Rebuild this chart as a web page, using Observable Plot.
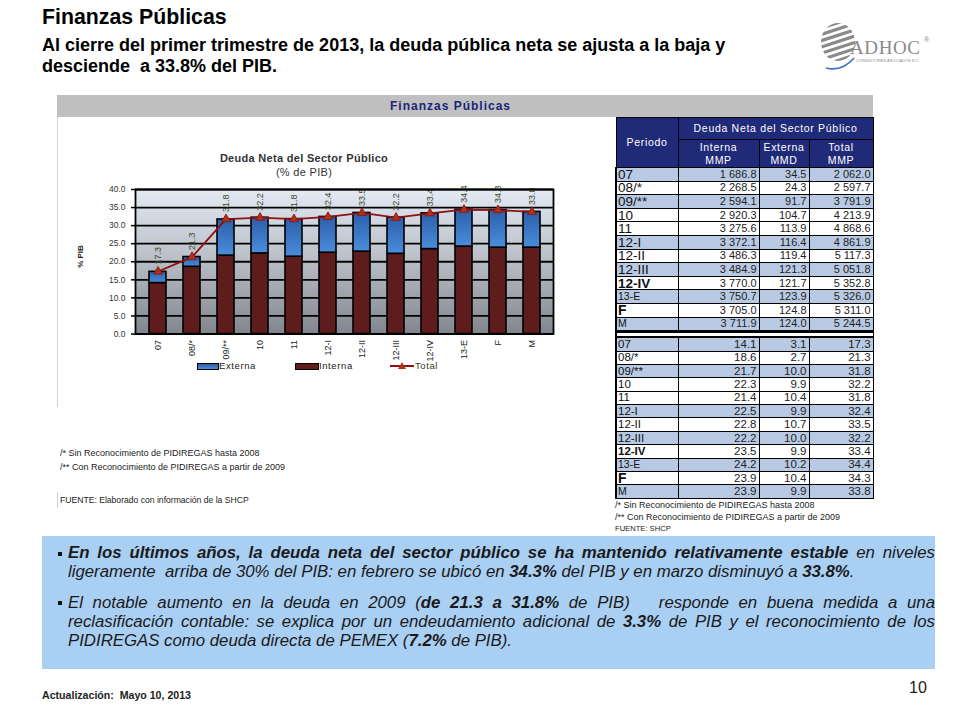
<!DOCTYPE html>
<html><head><meta charset="utf-8">
<script src="https://cdn.jsdelivr.net/npm/d3@7"></script>
<script src="https://cdn.jsdelivr.net/npm/@observablehq/plot@0.6"></script>
<style>
body{margin:0;background:#fff;font-family:"Liberation Sans",Arial,sans-serif;}
#page{position:relative;width:960px;height:720px;overflow:hidden;background:#fff;}
.abs{position:absolute;white-space:nowrap;}
#tbl{position:absolute;left:615px;top:117px;width:257px;border-collapse:collapse;table-layout:fixed;}
#tbl th{background:#1f2a78;color:#fff;font-weight:normal;font-size:10.5px;letter-spacing:.7px;border:1px solid #000;padding:0;line-height:13px;}
#tbl tr.h1 th{height:21px;}
#tbl tr.h2 th{height:27px;}
#tbl td{border:1px solid #000;padding:0 2px;font-size:11px;line-height:11px;text-align:right;color:#222;white-space:nowrap;}
#tbl tr.r1 td{height:12.6px;}
#tbl tr.r2 td{height:12.4px;font-size:11.5px;}
#tbl td.per{text-align:left;font-size:13.5px;color:#111;padding-left:1px;}
#tbl td:first-child{border-left:2px solid #000;}
#tbl tr.blue td{background:#b8cae3;}
#tbl tr.sep td{height:3px;border-top:3px solid #000;border-bottom:2px solid #000;background:#fff;padding:0;}
.fn{font-size:9px;color:#222;line-height:10px;}
#box{position:absolute;left:42px;top:536px;width:893px;height:133px;background:#a9cff3;}
.ln{position:absolute;left:26px;font-style:italic;font-size:16.8px;line-height:19px;color:#1a1a1a;white-space:nowrap;}
.bul{position:absolute;left:16px;width:4px;height:4px;background:#111;}
.leg{position:absolute;font-size:9.5px;letter-spacing:.6px;color:#222;white-space:nowrap;}
</style></head><body><div id="page">
<div class="abs" style="left:42px;top:5px;font-size:21.3px;font-weight:bold;color:#000;">Finanzas Públicas</div>
<div class="abs" style="left:42px;top:35px;font-size:18px;font-weight:bold;line-height:21px;color:#000;">Al cierre del primer trimestre de 2013, la deuda pública neta se ajusta a la baja y<br>desciende&nbsp; a 33.8% del PIB.</div>
<svg class="abs" style="left:818px;top:14px" width="125" height="62" viewBox="0 0 125 62">
 <defs><clipPath id="lc"><ellipse cx="20" cy="28" rx="17" ry="19"/></clipPath></defs>
 <g clip-path="url(#lc)" fill="#8a8a8a">
  <rect x="0" y="8" width="40" height="3.2" transform="rotate(-18 20 28)"/>
  <rect x="0" y="14" width="40" height="3.2" transform="rotate(-18 20 28)"/>
  <rect x="0" y="20" width="40" height="3.2" transform="rotate(-18 20 28)"/>
  <rect x="0" y="26" width="40" height="3.2" transform="rotate(-18 20 28)"/>
  <rect x="0" y="32" width="40" height="3.2" transform="rotate(-18 20 28)"/>
  <rect x="0" y="38" width="40" height="3.2" transform="rotate(-18 20 28)"/>
  <rect x="0" y="44" width="40" height="3.2" transform="rotate(-18 20 28)"/>
 </g>
 <path d="M8 54 Q24 58 36 44" stroke="#3b6fc0" stroke-width="1.6" fill="none"/>
 <text x="32" y="40" font-family="Liberation Serif,serif" font-size="19" fill="#8a8a8a" textLength="70">ADHOC</text>
 <text x="106" y="28" font-family="Liberation Sans" font-size="7" fill="#8a8a8a">®</text>
 <text x="38" y="48" font-family="Liberation Sans" font-size="4" fill="#8a8a8a">CONSULTORES ASOCIADOS S.C.</text>
</svg>
<div class="abs" style="left:57px;top:95px;width:816px;height:22px;background:#c0c0c0;"></div>
<div class="abs" style="left:390px;top:99px;font-size:12px;font-weight:bold;color:#1a2478;letter-spacing:1px;">Finanzas Públicas</div>
<div class="abs" style="left:57px;top:117px;width:1px;height:290px;background:#d0d0d0;"></div>
<div class="abs" style="left:57px;top:492px;width:1px;height:16px;background:#d0d0d0;"></div>
<div id="chart" class="abs" style="left:57px;top:117px;"></div>
<div class="abs" style="left:204px;top:152px;width:200px;text-align:center;font-size:11px;font-weight:bold;color:#333;letter-spacing:.3px;">Deuda Neta del Sector Público</div>
<div class="abs" style="left:204px;top:166px;width:200px;text-align:center;font-size:11px;color:#333;letter-spacing:.3px;">(% de PIB)</div>
<div class="abs" style="left:60px;top:252px;width:40px;text-align:center;font-size:8px;font-weight:bold;color:#222;transform:rotate(-90deg);">% PIB</div>
<div id="legend"></div>
<div class="abs fn" style="left:60px;top:448px;">/* Sin Reconocimiento de PIDIREGAS hasta 2008</div>
<div class="abs fn" style="left:60px;top:462px;">/** Con Reconocimiento de PIDIREGAS a partir de 2009</div>
<div class="abs fn" style="left:60px;top:495px;font-size:8.6px;">FUENTE: Elaborado con información de la SHCP</div>
<table id="tbl"></table>
<div class="abs fn" style="left:615px;top:500px;">/* Sin Reconocimiento de PIDIREGAS hasta 2008</div>
<div class="abs fn" style="left:615px;top:512px;">/** Con Reconocimiento de PIDIREGAS a partir de 2009</div>
<div class="abs fn" style="left:615px;top:524px;font-size:7.6px;">FUENTE: SHCP</div>
<div id="box">
 <div class="bul" style="top:16px"></div>
 <div class="ln j" style="top:7px"><b>En los últimos años, la deuda neta del sector público se ha mantenido relativamente estable</b> en niveles</div>
 <div class="ln" style="top:26px">ligeramente&nbsp; arriba de 30% del PIB: en febrero se ubicó en <b>34.3%</b> del PIB y en marzo disminuyó a <b>33.8%</b>.</div>
 <div class="bul" style="top:65px"></div>
 <div class="ln j" style="top:57px">El notable aumento en la deuda en 2009 (<b>de 21.3 a 31.8%</b> de PIB)&nbsp;&nbsp; responde en buena medida a una</div>
 <div class="ln j" style="top:76px">reclasificación contable: se explica por un endeudamiento adicional de <b>3.3%</b> de PIB y el reconocimiento de los</div>
 <div class="ln" style="top:95px">PIDIREGAS como deuda directa de PEMEX (<b>7.2%</b> de PIB).</div>
</div>
<div class="abs" style="left:42px;top:689px;font-size:10.6px;font-weight:bold;color:#222;">Actualización:&nbsp; Mayo 10, 2013</div>
<div class="abs" style="left:909px;top:679px;font-size:16px;color:#222;">10</div>
</div>
<script>
// ---- data ----
const periods = ["07","08/*","09/**","10","11","12-I","12-II","12-III","12-IV","13-E","F","M"];
const internaPIB = [14.1,18.6,21.7,22.3,21.4,22.5,22.8,22.2,23.5,24.2,23.9,23.9];
const externaPIB = [3.1,2.7,10.0,9.9,10.4,9.9,10.7,10.0,9.9,10.2,10.4,9.9];
const totalPIB   = [17.3,21.3,31.8,32.2,31.8,32.4,33.5,32.2,33.4,34.4,34.3,33.8];
const internaMMP = [1686.8,2268.5,2594.1,2920.3,3275.6,3372.1,3486.3,3484.9,3770.0,3750.7,3705.0,3711.9];
const externaMMD = [34.5,24.3,91.7,104.7,113.9,116.4,119.4,121.3,121.7,123.9,124.8,124.0];
const totalMMP   = [2062.0,2597.7,3791.9,4213.9,4868.6,4861.9,5117.3,5051.8,5352.8,5326.0,5311.0,5244.5];
const yTicks = [0,5,10,15,20,25,30,35,40];
const seriesNames = ["Interna","Externa"];

// ---- chart ----
const rows = periods.map((p,i)=>({p, interna:internaPIB[i], externa:externaPIB[i], total:totalPIB[i]}));
const long = rows.flatMap(r=>[{p:r.p,type:"Interna",v:r.interna},{p:r.p,type:"Externa",v:r.externa}]);
const chart = Plot.plot({
  width:536, height:243,
  marginLeft:78, marginRight:40, marginTop:72, marginBottom:26.5,
  style:{fontFamily:"Liberation Sans, Arial, sans-serif", fontSize:"8.5px", background:"transparent", overflow:"visible"},
  x:{domain:periods, paddingInner:0.5, paddingOuter:0.25, label:null},
  y:{domain:[0,40], label:null},
  color:{domain:seriesNames, range:["#5f1c1c","url(#gExt)"]},
  marks:[
    Plot.frame({fill:"url(#gBg)"}),
    Plot.ruleY(yTicks, {stroke:"#000", strokeWidth:1.8}),
    Plot.barY(long, Plot.stackY({x:"p", y:"v", fill:"type", stroke:"#000", strokeWidth:1.6})),
    Plot.line(rows, {x:"p", y:"total", stroke:"#8e1010", strokeWidth:1.8}),
    Plot.dot(rows, {x:"p", y:"total", symbol:"triangle", r:3.3, fill:"#a8341c", stroke:"#8e1010", strokeWidth:0.8}),
    Plot.text(rows, {x:"p", y:"total", text:d=>d.total.toFixed(1), rotate:-90, textAnchor:"start", dy:-7, fill:"#3e4a2c", fontSize:9}),
    Plot.axisY({ticks:yTicks, tickFormat:d3.format(".1f"), tickSize:4, tickPadding:6, label:null, fill:"#333", strokeWidth:1.5}),
    Plot.axisX({tickRotate:-90, tickSize:0, tickPadding:6, label:null, fill:"#222", fontSize:9}),
    Plot.frame({stroke:"#000", strokeWidth:1.8})
  ]
});
const ns="http://www.w3.org/2000/svg";
const defs=document.createElementNS(ns,"defs");
defs.innerHTML=`<linearGradient id="gBg" x1="0" y1="0" x2="0" y2="1"><stop offset="0" stop-color="#e3eaf3"/><stop offset="0.45" stop-color="#bcc1ca"/><stop offset="1" stop-color="#80858e"/></linearGradient>
<linearGradient id="gExt" x1="0" y1="0" x2="0" y2="1"><stop offset="0" stop-color="#2c5ea9"/><stop offset="1" stop-color="#4a8ddb"/></linearGradient>`;
chart.insertBefore(defs, chart.firstChild);
document.getElementById("chart").appendChild(chart);

// ---- legend ----
const lg=document.getElementById("legend");
lg.innerHTML=`
<div class="abs" style="left:197px;top:363px;width:20px;height:5px;background:linear-gradient(#2c5ea9,#4a8ddb);border:1px solid #000;"></div>
<div class="leg" style="left:219px;top:360px;">Externa</div>
<div class="abs" style="left:295px;top:363px;width:22px;height:5px;background:#5f1c1c;border:1px solid #000;"></div>
<div class="leg" style="left:319px;top:360px;">Interna</div>
<svg class="abs" style="left:389px;top:360px" width="26" height="12"><line x1="1" y1="6" x2="25" y2="6" stroke="#8e1010" stroke-width="2"/><path d="M13 2 L17 9 L9 9 Z" fill="#a8341c"/></svg>
<div class="leg" style="left:415px;top:360px;color:#2e3d22;">Total</div>`;

// ---- table ----
const fmt=d3.formatLocale({decimal:".", thousands:" ", grouping:[3]}).format(",.1f");
const stripe=[1,0,1,0,0,1,0,1,0,1,0,1];
const perStyle={"12-IV":"font-weight:bold;","13-E":"font-size:10.5px;","F":"font-weight:bold;font-size:14px;","M":"font-size:10.5px;"};
let html=`<colgroup><col style="width:62px"><col style="width:81px"><col style="width:50px"><col style="width:64px"></colgroup>
<tr class="h1"><th rowspan="2">Periodo</th><th colspan="3">Deuda Neta del Sector Público</th></tr>
<tr class="h2"><th>Interna<br>MMP</th><th>Externa<br>MMD</th><th>Total<br>MMP</th></tr>`;
periods.forEach((p,i)=>{
  html+=`<tr class="r1 ${stripe[i]?"blue":""}"><td class="per" style="${perStyle[p]||""}">${p}</td><td>${fmt(internaMMP[i])}</td><td>${fmt(externaMMD[i])}</td><td>${fmt(totalMMP[i])}</td></tr>`;
});
html+=`<tr class="sep"><td colspan="4"></td></tr>`;
periods.forEach((p,i)=>{
  html+=`<tr class="r2 ${stripe[i]?"blue":""}"><td class="per" style="${perStyle[p]||""}">${p}</td><td>${internaPIB[i].toFixed(1)}</td><td>${externaPIB[i].toFixed(1)}</td><td>${totalPIB[i].toFixed(1)}</td></tr>`;
});
document.getElementById("tbl").innerHTML=html;

// ---- justify text lines to 867px ----
document.querySelectorAll(".ln.j").forEach(el=>{
  const target=867;
  const w=el.getBoundingClientRect().width;
  const spaces=(el.textContent.match(/[ \u00a0]/g)||[]).length;
  if(w<target){ el.style.wordSpacing=((target-w)/spaces)+"px"; }
  else { const chars=el.textContent.length; el.style.letterSpacing=(-(w-target)/chars)+"px"; }
});
</script>
</body></html>
